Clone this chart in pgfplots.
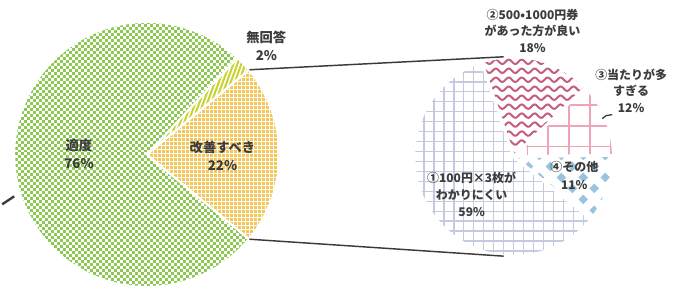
\documentclass[border=0pt]{standalone}
\usepackage{pgfplots}
\pgfplotsset{compat=1.18}
\usepackage{fontspec}
\newfontfamily\cjk{Noto Sans CJK JP}

\definecolor{txt}{HTML}{3C3C3C}
\definecolor{cGreen}{HTML}{8CC852}
\definecolor{cOrange}{HTML}{F3C655}
\definecolor{cLime}{HTML}{C8D42E}
\definecolor{cWine}{HTML}{C45E7E}
\definecolor{cLav}{HTML}{C6CAE0}
\definecolor{cPink}{HTML}{EFA3B6}
\definecolor{cBlue}{HTML}{98C4DE}
\definecolor{cLine}{HTML}{3A3A3A}

% ---- data ----
% left pie (percent)
\def\vTekido{76}\def\vKaizen{22}\def\vMukaito{2}
% right pie (breakdown of "改善すべき", percent)
\def\vOne{59}\def\vTwo{18}\def\vThree{12}\def\vFour{11}

\pgfmathsetmacro\kA{-\vKaizen*1.8}
\pgfmathsetmacro\kB{\vKaizen*1.8}
\pgfmathsetmacro\mB{\kB+\vMukaito*3.6}
\pgfmathsetmacro\tB{\mB+\vTekido*3.6}

\pgfmathsetmacro\sFour{-39}
\pgfmathsetmacro\sThree{\sFour+\vFour*3.6}
\pgfmathsetmacro\sTwo{\sThree+\vThree*3.6}
\pgfmathsetmacro\sOne{\sTwo+\vTwo*3.6}
\pgfmathsetmacro\eOne{\sOne+\vOne*3.6}

\def\Lx{145}\def\Ly{139}\def\Lr{133}
\def\Rx{513}\def\Ry{137}\def\Rr{100}

\newcommand\slice[6]{%
  \addplot[#6, domain=#4:#5, samples=90, variable=\t]
    ({#1+#3*cos(\t)},{#2+#3*sin(\t)}) -- (axis cs:#1,#2) -- cycle;}
\newcommand\clipslice[5]{\clip (#1,#2) -- ++(#4:#3) arc[start angle=#4, end angle=#5, radius=#3] -- cycle;}

\pgfplotsset{piebase/.style={
  hide axis, scale only axis, clip=false,
  width=504.75pt, height=220.5pt,
  xmin=0, xmax=673, ymin=0, ymax=294}}
\tikzset{lab/.style={text=txt, align=center, inner sep=0pt}}

\begin{document}
\begin{tikzpicture}
% ---------- slices (base fills) ----------
\begin{axis}[piebase]
\path (rel axis cs:0,0) rectangle (rel axis cs:1,1);
\coordinate (O) at (axis cs:0,0);
\slice{\Lx}{\Ly}{\Lr}{\kA}{\kB}{fill=cOrange, draw=none}
\slice{\Lx}{\Ly}{\Lr}{\kB}{\mB}{fill=white, draw=none}
\slice{\Lx}{\Ly}{\Lr}{\mB}{\tB}{fill=white, draw=none}
\slice{\Rx}{\Ry}{\Rr}{\sFour}{\sThree}{fill=white, draw=none}
\slice{\Rx}{\Ry}{\Rr}{\sThree}{\sTwo}{fill=white, draw=none}
\slice{\Rx}{\Ry}{\Rr}{\sTwo}{\sOne}{fill=white, draw=none}
\slice{\Rx}{\Ry}{\Rr}{\sOne}{\eOne}{fill=white, draw=none}
\end{axis}

% ---------- textures (styling of the slices) ----------
\begin{scope}[shift={(O)}, x=0.75pt, y=0.75pt]
  % 適度: green checkerboard
  \begin{scope}\clipslice{\Lx}{\Ly}{\Lr}{\mB}{\tB}
    \foreach \j in {0,2,...,90}{\draw[cGreen, line width=2.25pt, dash pattern=on 2.25pt off 2.25pt] (10,{4.5+3*\j}) -- (290,{4.5+3*\j});}
    \foreach \j in {1,3,...,89}{\draw[cGreen, line width=2.25pt, dash pattern=on 2.25pt off 2.25pt, dash phase=2.25pt] (10,{4.5+3*\j}) -- (290,{4.5+3*\j});}
  \end{scope}
  % 改善すべき: orange with white lattice
  \begin{scope}\clipslice{\Lx}{\Ly}{\Lr}{\kA}{\kB}
    \foreach \v in {140,144,...,284}{\draw[white, line width=0.8pt] (\v,40) -- (\v,240);}
    \foreach \v in {40,44,...,240}{\draw[white, line width=0.8pt] (140,\v) -- (290,\v);}
  \end{scope}
  % 無回答: lime stripes
  \begin{scope}\clipslice{\Lx}{\Ly}{\Lr}{\kB}{\mB}
    \foreach \v in {60,64,...,280}{\draw[cLime, line width=1.5pt] (\v,120) -- ++(70:140);}
  \end{scope}
  % ① lavender grid
  \begin{scope}\clipslice{\Rx}{\Ry}{\Rr}{\sOne}{\eOne}
    \foreach \v in {403,413,...,623}{\draw[cLav, line width=1.2pt] (\v,30) -- (\v,245);}
    \foreach \v in {32,42,...,242}{\draw[cLav, line width=1.2pt] (400,\v) -- (625,\v);}
  \end{scope}
  % ② wine waves
  \begin{scope}\clipslice{\Rx}{\Ry}{\Rr}{\sTwo}{\sOne}
    \foreach \yy in {133,142,...,245}{\draw[cWine, line width=1.5pt] plot[domain=0:160, samples=150, smooth] ({440+\x},{\yy+2.2*sin(\x*27.6923)});}
  \end{scope}
  % ③ pink grid
  \begin{scope}\clipslice{\Rx}{\Ry}{\Rr}{\sThree}{\sTwo}
    \foreach \v in {527,548,...,620}{\draw[cPink, line width=1.4pt] (\v,130) -- (\v,240);}
    \foreach \v in {147,168,...,240}{\draw[cPink, line width=1.4pt] (505,\v) -- (620,\v);}
  \end{scope}
  % ④ blue diamonds
  \begin{scope}\clipslice{\Rx}{\Ry}{\Rr}{\sFour}{\sThree}
    \foreach \i in {0,...,9}{\foreach \j in {0,...,7}{
      \pgfmathparse{int(mod(\i+\j,2))}
      \ifnum\pgfmathresult=0
        \fill[cBlue] ({517+11*\i},{138-11*\j}) ++(0,-4.8) -- ++(4.8,4.8) -- ++(-4.8,4.8) -- ++(-4.8,-4.8) -- cycle;
      \fi}}
  \end{scope}
\end{scope}

% ---------- borders, connectors, labels ----------
\begin{axis}[piebase]
\slice{\Lx}{\Ly}{\Lr}{\kA}{\kB}{draw=white, line width=1.5pt, fill=none}
\slice{\Lx}{\Ly}{\Lr}{\kB}{\mB}{draw=white, line width=1.5pt, fill=none}
\slice{\Lx}{\Ly}{\Lr}{\mB}{\tB}{draw=white, line width=1.5pt, fill=none}
\slice{\Rx}{\Ry}{\Rr}{\sFour}{\sThree}{draw=white, line width=2pt, fill=none}
\slice{\Rx}{\Ry}{\Rr}{\sThree}{\sTwo}{draw=white, line width=2pt, fill=none}
\slice{\Rx}{\Ry}{\Rr}{\sTwo}{\sOne}{draw=white, line width=2pt, fill=none}
\slice{\Rx}{\Ry}{\Rr}{\sOne}{\eOne}{draw=white, line width=2pt, fill=none}

\addplot[cLine, line width=1.1pt] coordinates {(248,224) (503,237)};
\addplot[cLine, line width=1.1pt] coordinates {(248,54) (503,37)};
\addplot[cLine, line width=1.8pt] coordinates {(0,89) (12,97)};
\addplot[cLine, line width=1pt] coordinates {(602,175) (606,178) (612,179)};

\node[lab, font=\fontsize{10}{13.5}\cjk\bfseries] at (axis cs:77,139.5) {適度\\76\%};
\node[lab, font=\fontsize{10}{13.5}\cjk\bfseries] at (axis cs:221,138) {改善すべき\\22\%};
\node[lab, font=\fontsize{10}{13.5}\cjk\bfseries] at (axis cs:265,248) {無回答\\2\%};
\node[lab, font=\fontsize{9}{12.3}\cjk\bfseries] at (axis cs:532,263) {②500•1000円券\\があった方が良い\\18\%};
\node[lab, font=\fontsize{9}{12.3}\cjk\bfseries] at (axis cs:631,203) {③当たりが多\\すぎる\\12\%};
\node[lab, font=\fontsize{9}{13}\cjk\bfseries] at (axis cs:574,118) {④その他\\11\%};
\node[lab, font=\fontsize{9}{12.5}\cjk\bfseries] at (axis cs:471,99) {①100円×3枚が\\わかりにくい\\59\%};
\end{axis}
\end{tikzpicture}
\end{document}
